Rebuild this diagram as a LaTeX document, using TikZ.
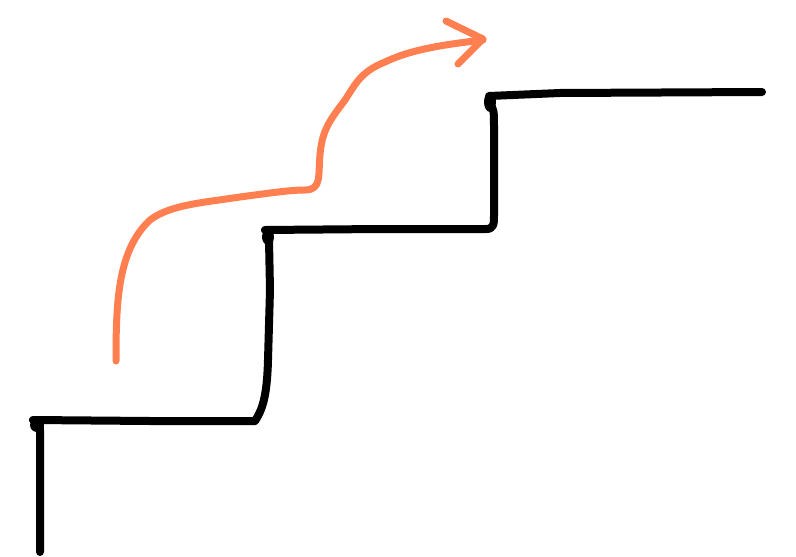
\documentclass[tikz,border=0pt]{standalone}
\definecolor{coral}{RGB}{255,127,80}
\begin{document}
\begin{tikzpicture}[x=1pt,y=-1pt,
  stair/.style={line width=8pt,black,line cap=round,line join=round},
  blob/.style={fill=black},
  arrowline/.style={line width=7pt,coral,line cap=round,line join=round}]
\useasboundingbox (0,0) rectangle (796,557);
% staircase
\draw[stair] (40,552) -- (40,430) .. controls (40,424) .. (33,420)
  -- (150,421) -- (255,421) .. controls (262,410) and (267,398) .. (268,360)
  -- (270,290) -- (269,240) .. controls (269,232) .. (265,230)
  -- (380,229) -- (486,229) .. controls (494,229) and (494,224) .. (494,215)
  -- (494,130) .. controls (494,110) .. (490,104) -- (489,96) -- (560,93) -- (762,92);
\fill[blob] (37,425) ellipse (7pt and 7pt);
\fill[blob] (268,237) ellipse (6pt and 8pt);
\fill[blob] (490,102) ellipse (6pt and 10pt);
% orange arrow
\draw[arrowline] (116,361) .. controls (116,300) and (118,250) .. (150,220)
  .. controls (170,205) and (200,203) .. (240,197)
  .. controls (270,193) and (290,190) .. (305,190)
  .. controls (322,190) and (318,175) .. (320,155)
  .. controls (322,130) and (330,120) .. (345,100)
  .. controls (355,85) and (360,72) .. (385,62)
  .. controls (410,50) and (440,45) .. (483,40);
\draw[arrowline] (446,21) -- (483,39) -- (458,64);
\end{tikzpicture}
\end{document}
